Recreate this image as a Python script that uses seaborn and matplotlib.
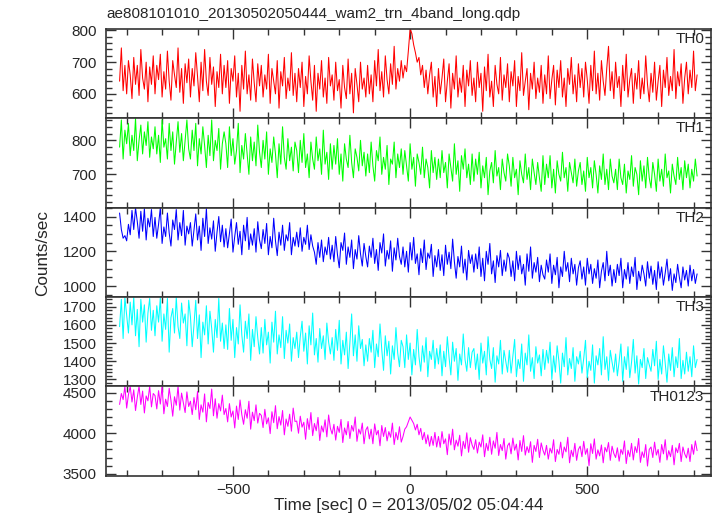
import numpy as np
import pandas as pd
import seaborn as sns
from matplotlib import pyplot as plt
from matplotlib.ticker import MultipleLocator

# light curve bins: 5 s bins from -820 to 810 sec
t_start, t_stop, t_bin = -820, 810, 5
time = np.arange(t_start, t_stop + 1, t_bin)

# counts/sec, one row per 100 s
th0 = [
    640, 745, 610, 690, 600, 705, 660, 585, 715, 630, 690, 595, 740, 650, 615, 700, 575, 685, 630, 720,
    600, 690, 645, 725, 590, 670, 615, 735, 640, 580, 705, 660, 620, 745, 605, 680, 570, 695, 635, 710,
    590, 680, 625, 730, 655, 575, 700, 610, 740, 640, 595, 715, 630, 685, 560, 670, 620, 725, 600, 690,
    620, 705, 570, 680, 640, 720, 590, 665, 545, 690, 615, 735, 600, 660, 580, 710, 635, 575, 695, 625,
    690, 590, 660, 615, 725, 570, 680, 640, 600, 705, 555, 670, 625, 715, 585, 650, 610, 730, 595, 665,
    575, 680, 620, 700, 560, 655, 600, 720, 640, 580, 690, 545, 665, 615, 705, 590, 650, 570, 715, 625,
    660, 580, 700, 610, 645, 555, 690, 620, 585, 710, 600, 665, 540, 680, 630, 575, 700, 615, 650, 590,
    690, 600, 660, 575, 705, 625, 740, 610, 670, 590, 720, 645, 600, 695, 630, 750, 615, 680, 640, 705,
    650, 690, 670, 735, 805, 790, 755, 730, 700, 715, 660, 690, 620, 675, 600, 660, 700, 590, 655, 560,
    680, 600, 650, 710, 575, 640, 695, 555, 665, 615, 720, 590, 650, 605, 690, 560, 675, 625, 705, 595,
    650, 575, 700, 620, 665, 545, 685, 610, 725, 590, 640, 560, 690, 630, 600, 715, 580, 660, 620, 695,
    575, 670, 625, 705, 560, 655, 610, 730, 595, 640, 680, 550, 665, 615, 700, 585, 650, 605, 690, 570,
    660, 600, 720, 585, 645, 690, 565, 675, 620, 705, 590, 650, 560, 680, 630, 715, 600, 660, 575, 695,
    620, 680, 590, 700, 645, 570, 690, 610, 735, 600, 665, 580, 705, 640, 595, 680, 750, 610, 670, 585,
    700, 620, 655, 560, 690, 610, 725, 590, 645, 680, 570, 665, 615, 705, 585, 650, 600, 720, 630, 575,
    665, 605, 700, 580, 640, 690, 560, 675, 620, 715, 595, 655, 610, 740, 585, 670, 625, 695, 570, 650,
    700, 600, 675, 620, 735, 610, 660,
]
th1 = [
    780, 860, 745, 830, 790, 850, 755, 815, 770, 865, 740, 800, 845, 760, 825, 785, 855, 750, 810, 775,
    840, 760, 815, 735, 860, 780, 805, 745, 850, 770, 825, 730, 795, 855, 765, 820, 740, 800, 860, 775,
    745, 830, 770, 850, 725, 805, 760, 840, 785, 720, 815, 755, 860, 740, 800, 770, 835, 715, 790, 825,
    790, 720, 840, 755, 805, 730, 770, 850, 705, 785, 745, 820, 760, 700, 810, 740, 795, 725, 845, 765,
    720, 800, 745, 825, 700, 775, 735, 810, 760, 690, 790, 730, 840, 750, 715, 805, 740, 780, 710, 795,
    770, 705, 800, 735, 820, 720, 760, 690, 795, 745, 715, 810, 740, 775, 700, 830, 730, 765, 685, 790,
    715, 785, 730, 805, 700, 760, 680, 790, 745, 720, 815, 735, 690, 775, 750, 710, 800, 725, 765, 695,
    760, 705, 795, 725, 680, 770, 740, 810, 700, 750, 715, 785, 670, 745, 730, 795, 690, 760, 720, 775,
    700, 770, 725, 680, 790, 715, 750, 665, 760, 735, 700, 780, 690, 745, 720, 660, 770, 705, 750, 685,
    745, 690, 770, 705, 735, 660, 760, 720, 680, 790, 700, 740, 650, 755, 715, 775, 690, 730, 670, 760,
    680, 745, 700, 765, 660, 725, 690, 750, 640, 710, 735, 675, 770, 695, 720, 655, 745, 705, 680, 760,
    725, 665, 750, 690, 715, 640, 740, 700, 675, 760, 685, 720, 655, 745, 705, 670, 735, 690, 650, 755,
    670, 730, 690, 755, 660, 715, 645, 740, 700, 680, 765, 690, 720, 650, 735, 705, 675, 745, 665, 710,
    735, 670, 710, 650, 750, 690, 720, 660, 740, 700, 645, 725, 685, 760, 670, 715, 655, 745, 695, 675,
    715, 655, 745, 690, 670, 730, 645, 710, 685, 755, 665, 720, 700, 640, 740, 680, 725, 660, 750, 690,
    660, 735, 700, 650, 745, 680, 715, 665, 760, 690, 710, 645, 730, 695, 670, 750, 685, 720, 655, 740,
    690, 730, 660, 715, 680, 745, 695,
]
th2 = [
    1420, 1325, 1275, 1290, 1260, 1355, 1295, 1435, 1325, 1450, 1370, 1275, 1430, 1315, 1445, 1265, 1390, 1340, 1440, 1285,
    1395, 1275, 1355, 1450, 1245, 1340, 1285, 1420, 1305, 1230, 1380, 1325, 1440, 1265, 1365, 1290, 1435, 1235, 1345, 1300,
    1365, 1230, 1320, 1415, 1265, 1345, 1205, 1390, 1285, 1445, 1245, 1335, 1270, 1375, 1200, 1310, 1400, 1255, 1350, 1225,
    1330, 1220, 1300, 1385, 1195, 1285, 1365, 1240, 1315, 1180, 1350, 1260, 1395, 1210, 1300, 1235, 1330, 1195, 1370, 1265,
    1215, 1325, 1245, 1360, 1180, 1285, 1220, 1390, 1260, 1175, 1310, 1235, 1350, 1205, 1295, 1260, 1365, 1180, 1280, 1230,
    1310, 1225, 1335, 1200, 1280, 1240, 1350, 1210, 1295, 1230, 1195, 1125, 1250, 1165, 1265, 1140, 1225, 1180, 1280, 1155,
    1235, 1140, 1285, 1180, 1105, 1250, 1205, 1305, 1125, 1225, 1165, 1265, 1100, 1210, 1155, 1290, 1185, 1115, 1245, 1170,
    1110, 1230, 1165, 1275, 1130, 1210, 1090, 1250, 1190, 1300, 1115, 1205, 1155, 1260, 1085, 1220, 1150, 1275, 1170, 1125,
    1225, 1110, 1200, 1080, 1250, 1150, 1280, 1130, 1185, 1065, 1215, 1135, 1265, 1095, 1190, 1160, 1240, 1055, 1175, 1110,
    1210, 1090, 1180, 1060, 1235, 1125, 1195, 1100, 1270, 1140, 1045, 1170, 1110, 1230, 1075, 1155, 1035, 1205, 1130, 1180,
    1080, 1185, 1100, 1225, 1055, 1160, 1030, 1200, 1125, 1245, 1070, 1145, 1020, 1175, 1110, 1205, 1060, 1150, 1085, 1190,
    1160, 1055, 1145, 1030, 1200, 1095, 1175, 1070, 1125, 1005, 1185, 1085, 1225, 1045, 1135, 1080, 1165, 1025, 1120, 1065,
    1040, 1150, 1080, 1185, 1015, 1120, 1065, 1165, 990, 1110, 1055, 1200, 1085, 1135, 1025, 1160, 1070, 1125, 1005, 1105,
    1145, 1040, 1110, 1005, 1160, 1070, 1125, 1015, 1100, 1045, 1150, 990, 1085, 1135, 1030, 1200, 1060, 1120, 1000, 1095,
    1020, 1125, 1060, 1160, 990, 1095, 1040, 1135, 1015, 1110, 1055, 1165, 980, 1085, 1030, 1120, 1070, 1000, 1140, 1045,
    1115, 1010, 1090, 980, 1140, 1045, 1110, 1005, 1075, 1155, 1030, 1100, 975, 1070, 1020, 1125, 1050, 990, 1110, 1035,
    1090, 1000, 1120, 1030, 1095, 1015, 1070,
]
th3 = [
    1590, 1740, 1525, 1750, 1650, 1555, 1725, 1600, 1750, 1540, 1685, 1480, 1740, 1615, 1710, 1505, 1665, 1745, 1570, 1680,
    1540, 1705, 1615, 1750, 1510, 1660, 1575, 1745, 1450, 1640, 1690, 1555, 1750, 1590, 1525, 1720, 1610, 1660, 1485, 1735,
    1645, 1480, 1600, 1735, 1525, 1655, 1420, 1615, 1545, 1705, 1495, 1675, 1580, 1450, 1630, 1530, 1745, 1510, 1610, 1470,
    1600, 1465, 1690, 1515, 1630, 1420, 1585, 1495, 1710, 1545, 1450, 1620, 1525, 1660, 1405, 1575, 1480, 1645, 1530, 1440,
    1585, 1445, 1630, 1490, 1560, 1390, 1615, 1505, 1675, 1440, 1545, 1475, 1645, 1415, 1570, 1500, 1605, 1400, 1530, 1470,
    1560, 1420, 1535, 1620, 1455, 1555, 1385, 1595, 1490, 1665, 1435, 1525, 1395, 1580, 1470, 1540, 1410, 1610, 1505, 1440,
    1530, 1405, 1575, 1460, 1625, 1385, 1515, 1435, 1560, 1360, 1500, 1660, 1430, 1545, 1400, 1595, 1470, 1520, 1375, 1490,
    1400, 1525, 1450, 1570, 1365, 1495, 1425, 1605, 1465, 1350, 1540, 1430, 1510, 1330, 1485, 1410, 1585, 1445, 1370, 1515,
    1480, 1365, 1545, 1410, 1500, 1325, 1465, 1380, 1575, 1425, 1345, 1485, 1395, 1530, 1315, 1455, 1410, 1515, 1360, 1470,
    1385, 1490, 1320, 1455, 1370, 1535, 1420, 1325, 1505, 1400, 1470, 1295, 1440, 1380, 1550, 1410, 1345, 1475, 1365, 1450,
    1470, 1355, 1440, 1300, 1500, 1390, 1455, 1325, 1535, 1410, 1360, 1475, 1285, 1430, 1385, 1515, 1330, 1460, 1400, 1340,
    1460, 1335, 1430, 1520, 1315, 1410, 1360, 1495, 1290, 1445, 1380, 1545, 1345, 1420, 1305, 1480, 1390, 1435, 1320, 1465,
    1355, 1460, 1390, 1505, 1300, 1430, 1340, 1485, 1400, 1280, 1445, 1370, 1530, 1325, 1415, 1360, 1475, 1290, 1425, 1385,
    1455, 1335, 1415, 1515, 1310, 1400, 1350, 1490, 1280, 1430, 1380, 1470, 1325, 1535, 1355, 1425, 1295, 1460, 1395, 1340,
    1440, 1320, 1400, 1495, 1290, 1425, 1355, 1480, 1310, 1395, 1520, 1335, 1430, 1275, 1410, 1365, 1470, 1305, 1420, 1380,
    1345, 1465, 1375, 1510, 1300, 1410, 1330, 1485, 1390, 1285, 1440, 1350, 1475, 1315, 1425, 1365, 1525, 1305, 1405, 1330,
    1450, 1345, 1425, 1315, 1485, 1365, 1410,
]
th0123 = [
    4355, 4490, 4415, 4580, 4310, 4475, 4580, 4385, 4535, 4280, 4445, 4580, 4355, 4520, 4250, 4460, 4400, 4580, 4325, 4490,
    4465, 4300, 4525, 4360, 4580, 4240, 4420, 4330, 4555, 4405, 4210, 4450, 4345, 4580, 4285, 4495, 4375, 4255, 4510, 4330,
    4395, 4230, 4440, 4290, 4515, 4170, 4350, 4260, 4485, 4140, 4380, 4305, 4545, 4215, 4425, 4185, 4365, 4275, 4470, 4230,
    4305, 4140, 4365, 4200, 4275, 4065, 4335, 4170, 4410, 4230, 4110, 4290, 4185, 4395, 4050, 4260, 4155, 4350, 4125, 4245,
    4220, 4070, 4295, 4115, 4190, 3995, 4265, 4130, 4340, 4055, 4205, 4100, 4280, 3980, 4175, 4085, 4235, 4025, 4310, 4145,
    4150, 4000, 4210, 4075, 4135, 3925, 4180, 4045, 4255, 3970, 4120, 4030, 4195, 3910, 4090, 4015, 4165, 3955, 4225, 4060,
    3990, 4110, 3915, 4085, 4010, 4170, 3885, 4065, 3980, 4145, 3935, 4095, 4025, 4200, 3900, 4050, 3990, 4125, 3870, 4040,
    4080, 3930, 4050, 3870, 4115, 3980, 4035, 3845, 4095, 3960, 4070, 3905, 4020, 3950, 4125, 3860, 4010, 3920, 4080, 3890,
    3960, 4050, 4080, 4140, 4200, 4160, 4120, 4040, 4110, 3980, 4060, 3920, 4010, 3870, 3980, 3840, 3960, 3850, 4010, 3830,
    3960, 3825, 4020, 3870, 3930, 3735, 3990, 3855, 4050, 3795, 3915, 3840, 3975, 3720, 3900, 3810, 4005, 3765, 3945, 3855,
    3800, 3920, 3755, 3890, 3830, 3980, 3710, 3875, 3785, 3950, 3740, 3905, 3815, 4010, 3725, 3860, 3785, 3935, 3680, 3845,
    3880, 3745, 3940, 3790, 3865, 3670, 3910, 3775, 3970, 3730, 3835, 3760, 3895, 3640, 3850, 3775, 3925, 3700, 3880, 3790,
    3730, 3850, 3680, 3815, 3755, 3920, 3650, 3800, 3740, 3890, 3695, 3830, 3770, 3950, 3635, 3790, 3710, 3875, 3665, 3800,
    3840, 3710, 3900, 3740, 3810, 3600, 3870, 3750, 3930, 3680, 3795, 3720, 3855, 3635, 3825, 3770, 3885, 3665, 3840, 3750,
    3700, 3820, 3655, 3800, 3740, 3905, 3625, 3790, 3710, 3875, 3670, 3835, 3760, 3935, 3640, 3770, 3700, 3860, 3595, 3800,
    3830, 3700, 3890, 3730, 3800, 3640, 3860, 3745, 3920, 3670, 3785, 3710, 3850, 3610, 3820, 3760, 3875, 3650, 3830, 3745,
    3695, 3815, 3650, 3860, 3740, 3905, 3785,
]

bands = ['TH0', 'TH1', 'TH2', 'TH3', 'TH0123']
series = [th0, th1, th2, th3, th0123]
colors = ['#ff0000', '#00ff00', '#0000ff', '#00ffff', '#ff00ff']
ylims = [(523, 805), (602, 865), (937, 1451), (1262, 1753), (3475, 4578)]
major = [100, 100, 200, 100, 500]
minor = [20, 20, 50, 20, 100]

sns.set_style('ticks')
plt.rcParams['font.family'] = ['Liberation Sans', 'DejaVu Sans']

fig, axes = plt.subplots(5, 1, figsize=(7.17, 5.16), dpi=100, sharex=True)
fig.subplots_adjust(left=0.148, right=0.992, top=0.944, bottom=0.078, hspace=0)

for ax, name, vals, c, yl, mj, mn in zip(axes, bands, series, colors, ylims, major, minor):
    df = pd.DataFrame({'time': time, 'rate': vals})
    sns.lineplot(data=df, x='time', y='rate', ax=ax, color=c, linewidth=0.75)
    ax.set_xlim(-858, 850)
    ax.set_ylim(*yl)
    ax.yaxis.set_major_locator(MultipleLocator(mj))
    ax.yaxis.set_minor_locator(MultipleLocator(mn))
    ax.xaxis.set_major_locator(MultipleLocator(500))
    ax.xaxis.set_minor_locator(MultipleLocator(100))
    ax.tick_params(which='both', direction='in', top=True, right=True,
                   labelsize=11, color='#333333', width=1)
    ax.tick_params(which='major', length=7)
    ax.tick_params(which='minor', length=4)
    ax.tick_params(axis='y', pad=7)
    ax.tick_params(axis='x', pad=5)
    ax.set_xlabel('')
    ax.set_ylabel('')
    for s in ax.spines.values():
        s.set_linewidth(1.2)
        s.set_color('#333333')
    ax.text(0.988, 0.965, name, transform=ax.transAxes, ha='right', va='top', fontsize=11)

axes[-1].set_xlabel('Time [sec] 0 = 2013/05/02 05:04:44', fontsize=12.3, labelpad=1)
fig.text(0.060, 0.510, 'Counts/sec', rotation=90, ha='center', va='center', fontsize=12.3)
fig.text(0.148, 0.972, 'ae808101010_20130502050444_wam2_trn_4band_long.qdp',
         ha='left', va='center', fontsize=11)

plt.savefig('out.png', dpi=100)
